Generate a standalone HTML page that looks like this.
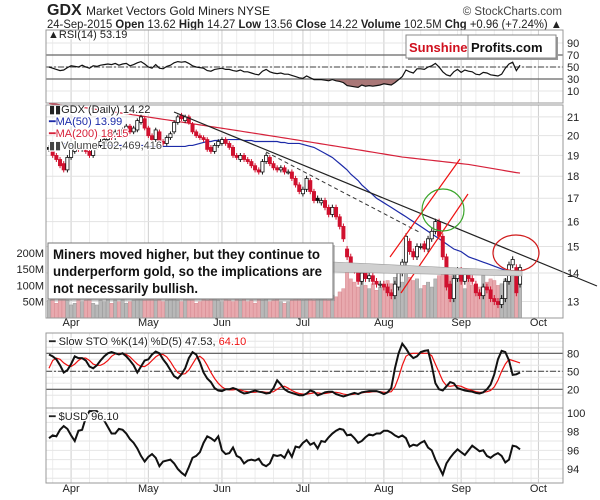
<!DOCTYPE html>
<html><head><meta charset="utf-8"><style>
html,body{margin:0;padding:0;background:#fff;}
svg{display:block;font-family:"Liberation Sans",sans-serif;}
.halo{paint-order:stroke;stroke:#fff;stroke-width:2.5px;stroke-linejoin:round;}
</style></head><body>
<svg id="chart" width="600" height="500" viewBox="0 0 600 500" xmlns="http://www.w3.org/2000/svg">
<rect x="0" y="0" width="600" height="500" fill="#fff"/>
<g>
<text x="47" y="15" font-size="16" font-weight="bold" fill="#222">GDX</text>
<text x="86" y="15" font-size="12" fill="#222">Market Vectors Gold Miners  NYSE</text>
<text x="562" y="15" font-size="11.5" fill="#444" text-anchor="end">© StockCharts.com</text>
<text x="47" y="28" font-size="11.5" fill="#222" textLength="515" lengthAdjust="spacingAndGlyphs">24-Sep-2015  <tspan font-weight="bold">Open</tspan> 13.62  <tspan font-weight="bold">High</tspan> 14.27  <tspan font-weight="bold">Low</tspan> 13.56  <tspan font-weight="bold">Close</tspan> 14.22  <tspan font-weight="bold">Volume</tspan> 102.5M  <tspan font-weight="bold">Chg</tspan> +0.96 (+7.24%) ▲</text>
</g>
<g id="grid"></g>
<g id="marks"></g>
<g id="overlay"></g>
<g id="frames"></g>
</svg>
<script>
const C=[19.3,19.0,18.8,18.5,18.3,18.9,19.3,19.4,19.3,19.5,19.2,19.0,19.4,19.5,19.7,19.8,20.0,19.9,20.2,20.0,20.3,20.5,20.2,20.4,20.8,21.0,20.4,20.0,19.8,20.3,19.7,19.6,19.9,20.1,20.7,21.0,20.9,21.0,20.7,20.2,20.0,19.9,19.8,19.3,19.2,19.5,19.7,19.8,19.6,19.4,19.0,18.9,19.0,18.8,18.7,18.5,18.3,18.2,18.7,19.0,18.6,18.4,18.3,18.4,18.2,18.2,17.9,17.6,17.3,17.4,17.9,17.3,16.9,16.9,16.9,16.6,16.3,16.6,16.2,15.8,15.3,14.6,14.2,14.1,13.7,14.0,13.8,13.9,13.7,13.6,13.6,13.5,13.3,13.2,13.6,14.0,14.4,15.4,14.8,14.6,15.0,15.0,14.9,15.3,15.6,16.0,15.4,14.6,13.5,13.1,13.8,14.1,13.7,14.0,13.8,13.7,13.3,13.2,13.5,13.4,13.1,13.0,12.9,13.1,13.7,14.3,14.5,13.3,14.2];
const O=[19.4,19.3,19.0,18.8,18.6,18.3,18.9,19.2,19.5,19.3,19.5,19.2,19.0,19.4,19.5,19.6,19.8,20.1,19.9,20.2,20.0,20.3,20.5,20.2,20.3,20.7,20.9,20.4,20.0,19.8,20.2,19.7,19.6,19.9,20.2,20.7,21.1,20.8,21.0,20.6,20.2,20.0,19.9,19.8,19.4,19.2,19.5,19.6,19.8,19.6,19.4,19.0,18.8,19.0,18.8,18.7,18.5,18.3,18.2,18.7,18.9,18.6,18.4,18.3,18.4,18.2,18.2,17.9,17.6,17.2,17.4,17.8,17.3,17.0,16.8,16.9,16.6,16.3,16.6,16.2,15.8,14.9,14.6,14.2,14.1,13.7,14.0,13.8,13.9,13.7,13.6,13.6,13.5,13.3,13.2,13.5,14.0,14.4,15.2,14.8,14.6,15.0,15.1,14.9,15.3,15.6,16.0,15.4,14.6,13.6,13.1,13.8,14.1,13.7,14.0,13.8,13.6,13.3,13.2,13.5,13.4,13.1,13.0,12.9,13.1,13.7,14.3,14.2,13.6];
const VOL=[55,60,45,70,65,55,40,45,60,50,55,60,45,40,55,50,60,45,55,50,60,45,50,55,75,60,55,65,80,55,60,50,55,65,60,55,50,65,60,70,45,50,60,55,80,60,55,50,60,55,50,60,55,65,50,55,45,60,55,70,50,55,60,50,45,50,55,60,65,55,70,60,55,65,75,60,55,70,65,80,90,150,120,110,95,130,100,90,105,85,95,100,115,105,125,100,110,140,125,115,120,90,100,110,95,120,130,140,150,130,135,120,110,90,125,100,105,95,130,110,120,115,100,105,120,130,140,125,102];
const RSI=[50,48,46,44,45,49,52,51,50,53,50,48,52,51,53,54,55,54,56,53,55,56,52,54,57,59,55,50,48,54,48,47,51,53,57,59,58,59,56,52,50,49,48,44,43,46,47,48,46,46,44,43,45,42,42,40,38,37,43,46,42,40,39,40,38,38,36,34,32,31,35,32,29,29,29,28,27,29,27,26,24,19,18,17,16,20,18,19,18,19,20,22,21,20,24,29,34,45,42,40,47,47,46,50,52,56,50,42,37,35,42,46,41,45,43,42,38,37,41,40,37,36,35,38,48,55,58,44,53];
const STOK=[78,75,70,60,48,52,62,75,72,72,68,58,55,60,68,75,80,82,80,78,80,75,68,60,48,58,68,70,78,83,80,70,62,52,42,38,45,55,72,82,78,65,48,38,32,22,18,17,20,20,22,20,16,13,14,16,18,16,15,13,14,22,35,28,20,16,14,12,10,10,13,18,16,10,12,15,16,16,12,10,8,10,12,14,12,15,16,17,17,17,15,12,15,22,55,80,96,88,78,72,75,82,84,85,60,30,20,18,25,32,30,22,20,18,17,16,14,13,15,20,28,45,70,84,82,68,44,45,48];
const STOD=[55,68,72,70,64,60,58,62,68,72,72,68,62,60,60,63,68,75,79,80,79,78,74,68,62,58,58,62,68,74,78,78,74,66,56,48,45,46,52,62,72,75,70,60,48,38,30,24,20,19,19,20,19,17,16,15,15,16,16,15,15,16,20,24,25,22,18,15,13,12,12,13,14,14,13,13,14,15,15,14,12,11,11,12,13,14,15,15,16,16,16,15,15,16,24,40,60,75,79,80,80,80,80,80,76,62,48,34,26,25,26,26,25,22,20,18,16,15,15,16,18,24,35,50,62,70,68,66,64];
const USD=[97.3,97.6,97.5,98.2,98.6,98.3,97.6,97.0,98.1,98.2,99.5,100.3,100.8,100.5,99.8,99.2,98.5,97.8,97.8,98.3,98.2,97.8,97.2,96.8,96.2,95.4,94.8,95.3,95.6,95.2,94.3,94.8,94.9,95.0,94.6,94.0,93.6,93.3,94.2,95.2,95.4,95.8,96.8,97.5,97.3,97.0,97.5,96.0,95.6,95.7,96.3,95.4,95.2,94.6,94.9,95.0,94.9,95.1,94.5,94.3,94.6,95.5,95.4,95.5,95.2,96.0,95.3,96.4,96.3,96.8,97.1,96.6,96.8,96.2,97.0,96.9,97.4,97.8,98.1,98.3,98.2,97.6,97.7,97.3,96.8,97.0,97.4,97.7,97.6,97.8,97.8,98.1,98.1,97.9,97.6,97.4,97.6,97.3,96.4,96.6,96.5,96.8,97.0,96.3,96.0,95.0,94.2,93.4,94.6,95.2,95.7,96.1,95.8,95.5,96.0,96.5,96.2,95.9,96.0,95.4,95.2,95.5,95.7,95.4,94.7,95.0,96.5,96.4,96.1];
const MA50=[19.7,19.7,19.6,19.6,19.6,19.5,19.5,19.5,19.5,19.5,19.5,19.5,19.5,19.5,19.5,19.5,19.5,19.5,19.5,19.5,19.5,19.5,19.5,19.5,19.5,19.5,19.5,19.45,19.45,19.45,19.45,19.45,19.45,19.45,19.45,19.45,19.45,19.45,19.5,19.5,19.55,19.6,19.65,19.7,19.7,19.75,19.75,19.8,19.8,19.8,19.8,19.8,19.8,19.75,19.75,19.75,19.7,19.7,19.7,19.7,19.7,19.7,19.7,19.65,19.65,19.6,19.6,19.6,19.6,19.55,19.5,19.45,19.4,19.3,19.2,19.1,19.0,18.9,18.75,18.6,18.45,18.3,18.1,17.95,17.8,17.6,17.45,17.3,17.15,17.0,16.9,16.8,16.7,16.6,16.5,16.4,16.3,16.2,16.1,16.0,15.9,15.8,15.7,15.6,15.5,15.4,15.3,15.2,15.1,15.0,14.9,14.85,14.8,14.7,14.6,14.55,14.5,14.45,14.4,14.35,14.3,14.25,14.2,14.15,14.1,14.05,14.03,14.0,13.99];
const MA200=[21.75,21.72,21.7,21.67,21.65,21.62,21.6,21.57,21.55,21.52,21.5,21.47,21.44,21.41,21.38,21.35,21.32,21.29,21.26,21.23,21.2,21.17,21.14,21.11,21.08,21.05,21.02,20.99,20.96,20.93,20.9,20.87,20.84,20.81,20.78,20.75,20.72,20.69,20.66,20.63,20.6,20.57,20.54,20.51,20.48,20.45,20.42,20.39,20.36,20.33,20.3,20.27,20.24,20.21,20.18,20.15,20.12,20.09,20.06,20.03,20.0,19.97,19.94,19.91,19.88,19.85,19.82,19.79,19.76,19.73,19.7,19.67,19.64,19.61,19.58,19.55,19.52,19.49,19.46,19.43,19.4,19.37,19.34,19.31,19.28,19.25,19.22,19.19,19.16,19.13,19.1,19.07,19.04,19.01,18.98,18.95,18.92,18.9,18.88,18.86,18.84,18.82,18.8,18.78,18.76,18.74,18.72,18.7,18.68,18.66,18.64,18.62,18.6,18.58,18.56,18.53,18.5,18.47,18.44,18.41,18.38,18.35,18.32,18.29,18.26,18.23,18.2,18.17,18.15];
const MONTHS=["Apr","May","Jun","Jul","Aug","Sep","Oct"];
const MONTH_IDX=[6,27,47,69,91,112,133];
const PRICE_TICKS=[13,14,15,16,17,18,19,20,21];
const VOL_TICKS=[50,100,150,200];
const RSI_TICKS=[10,30,50,70,90];
const STO_TICKS=[20,50,80];
const USD_TICKS=[94,96,98,100];

const NS="http://www.w3.org/2000/svg";
const L=46,R=563;
const xOf=i=>49+i*3.68;
const yP=p=>273-Math.log(p/14)*385;
const yV=v=>318-v*0.326;
const yR=v=>97-v*0.6;
const yS=v=>401.3-v*0.6;
const yU=v=>413+(100-v)*9.33;
const P={rsi:[30,103],main:[105,318],sto:[333,408],usd:[408,483]};
function mk(tag,attrs,parent){const e=document.createElementNS(NS,tag);for(const k in attrs)e.setAttribute(k,attrs[k]);parent.appendChild(e);return e;}
const grid=document.getElementById('grid'),marks=document.getElementById('marks'),ov=document.getElementById('overlay'),fr=document.getElementById('frames');

for(const key in P){const [t,b]=P[key];
 for(let i=1;i<134;i+=5){const x=xOf(i);if(x<L||x>R)continue;const ln=mk('line',{x1:x,x2:x,y1:t,y2:b,stroke:'#ececec','stroke-width':1},grid);

}
 MONTH_IDX.forEach(mi=>{const x=xOf(mi);const ln=mk('line',{x1:x,x2:x,y1:t,y2:b,stroke:'#cfcfcf','stroke-width':1},grid);

});
}
[326,492].forEach(y=>MONTHS.forEach((m,k)=>{const t=mk('text',{x:xOf(MONTH_IDX[k]),y:y,'font-size':11,'text-anchor':'middle',fill:'#222'},fr);t.textContent=m;

}));
function hline(y,parent,stroke,dash,w){const a={x1:L,x2:R,y1:y,y2:y,stroke:stroke,'stroke-width':w||1};if(dash)a['stroke-dasharray']=dash;return mk('line',a,parent);}
function label(x,y,txt,anchor){const t=mk('text',{x:x,y:y+4,'font-size':11,fill:'#222','text-anchor':anchor||'start'},fr);t.textContent=txt;return t;}
PRICE_TICKS.forEach(p=>{const ln=hline(yP(p),grid,'#e2e2e2');


const t=label(567,yP(p),String(p));

});
VOL_TICKS.forEach(v=>{const t=label(44,yV(v),v+'M','end');

});
for(let v=10;v<=90;v+=20){const ln=hline(yR(v),grid,'#e6e6e6');}
RSI_TICKS.forEach(v=>{const t=label(567,yR(v),String(v));

});
for(let v=10;v<=100;v+=10){const ln=hline(yS(v),grid,'#e6e6e6');}
STO_TICKS.forEach(v=>{const t=label(567,yS(v),String(v));

});
for(let v=93;v<=100;v+=1){const ln=hline(yU(v),grid,'#e6e6e6');}
USD_TICKS.forEach(v=>{const t=label(567,yU(v),String(v));

});

(function(){
 let d='';
 for(let i=0;i<RSI.length;i++){const v=Math.min(RSI[i],30);d+=(i?'L':'M')+xOf(i)+','+yR(v);}
 d+='L'+xOf(RSI.length-1)+','+yR(30)+'L'+xOf(0)+','+yR(30)+'Z';
 const a=mk('path',{d:d,fill:'#a97777',stroke:'none'},marks);
 
 
 [[70,null],[30,null],[50,'6,2,2,2']].forEach(([v,dash])=>{const ln=hline(yR(v),marks,'#666',dash,1.2);});
 const p=mk('polyline',{points:RSI.map((v,i)=>xOf(i)+','+yR(v)).join(' '),fill:'none',stroke:'#111','stroke-width':1.2},marks);
 
 
})();

VOL.forEach((v,i)=>{const up=i===0||C[i]>=C[i-1];const x=xOf(i);
 const r=mk('rect',{x:x-1.7,y:yV(v),width:3.4,height:318-yV(v),fill:up?'#b8b8b8':'#e8a9ae',stroke:up?'#999':'#d98c93','stroke-width':0.5},marks);
 
 });

function poly(arr,yf,color,w,name){const p=mk('polyline',{points:arr.map((v,i)=>xOf(i)+','+yf(v)).join(' '),fill:'none',stroke:color,'stroke-width':w},marks);return p;}
poly(MA200,yP,'#d6213a',1.2,'ma200-line');
poly(MA50,yP,'#1c2aa8',1.2,'ma50-line');

C.forEach((c,i)=>{const o=O[i];const x=xOf(i);const up=i===0||c>=C[i-1];const col=up?'#111':'#d0102e';
 const hi=Math.max(o,c)+0.12,lo=Math.min(o,c)-0.12;
 const w=mk('line',{x1:x,x2:x,y1:yP(hi),y2:yP(lo),stroke:col,'stroke-width':1},marks);
 
 
 const top=yP(Math.max(o,c)),bot=yP(Math.min(o,c));
 const b=mk('rect',{x:x-1.6,y:top,width:3.2,height:Math.max(1,bot-top),fill:c>=o?'#fff':col,stroke:col,'stroke-width':0.8},marks);
 
 });

[[80,null],[20,null],[50,'6,2,2,2']].forEach(([v,dash])=>{const ln=hline(yS(v),marks,'#555',dash,1.2);});
poly(STOD,yS,'#ee1111',1.2,'sto-d-line');
poly(STOK,yS,'#111',2,'sto-k-line');
poly(USD.map(v=>Math.min(v,100.2)),yU,'#111',2,'usd-line');

for(const key in P){const [t,b]=P[key];const r=mk('rect',{x:L,y:t,width:R-L,height:b-t,fill:'none',stroke:'#999','stroke-width':1},fr);

}
</script>
<script>
(function(){
const NS="http://www.w3.org/2000/svg";
const ov=document.getElementById('overlay');
const html=`
<line x1="174" y1="112" x2="597" y2="286" stroke="#222" stroke-width="1.2"/>
<line x1="266" y1="152" x2="421" y2="233" stroke="#333" stroke-width="1" stroke-dasharray="4,3"/>
<line x1="390" y1="257" x2="460" y2="159" stroke="#e11" stroke-width="1.2"/>
<line x1="401" y1="293" x2="468" y2="194" stroke="#e11" stroke-width="1.2"/>
<ellipse cx="443" cy="210" rx="21" ry="21" fill="none" stroke="#3aa52a" stroke-width="1.2"/>
<ellipse cx="516" cy="253" rx="23" ry="18" fill="none" stroke="#d01a1a" stroke-width="1.2"/>
<polygon points="333,262 522,271 522,276 333,272" fill="#d0d0d0" stroke="#999" stroke-width="0.6"/>
<rect x="50" y="245" width="285" height="56" fill="#888" opacity="0.5"/>
<rect x="48" y="243" width="285" height="56" fill="#fff" stroke="#777" stroke-width="1"/>
<text x="53" y="259" font-size="14" font-weight="bold" fill="#111" textLength="267" lengthAdjust="spacingAndGlyphs">Miners moved higher, but they continue to</text>
<text x="53" y="276" font-size="14" font-weight="bold" fill="#111" textLength="269" lengthAdjust="spacingAndGlyphs">underperform gold, so the implications are</text>
<text x="53" y="293" font-size="14" font-weight="bold" fill="#111" textLength="145" lengthAdjust="spacingAndGlyphs">not necessarily bullish.</text>
<rect x="408" y="37" width="150" height="23" fill="#999"/>
<rect x="406" y="35" width="150" height="23" fill="#fff" stroke="#888"/>
<line x1="468" y1="35" x2="468" y2="58" stroke="#888"/>
<text x="409" y="52" font-size="13" font-weight="bold" fill="#d0101e">Sunshine</text>
<text x="471" y="52" font-size="13" font-weight="bold" fill="#111">Profits.com</text>
<text class="halo" x="48" y="38" font-size="11" fill="#222">▲RSI(14) 53.19</text>
<text class="halo" x="49" y="113" font-size="11" fill="#222">▮▮GDX (Daily) 14.22</text>
<text class="halo" x="49" y="125" font-size="11" fill="#1c2aa8">━MA(50) 13.99</text>
<text class="halo" x="49" y="137" font-size="11" fill="#d6213a">━MA(200) 18.15</text>
<text class="halo" x="49" y="149" font-size="11" fill="#444">▮▮Volume 102,469,416</text>
<text class="halo" x="49" y="345" font-size="11" fill="#222">━ Slow STO %K(14) %D(5) 47.53, <tspan fill="#e11">64.10</tspan></text>
<text class="halo" x="49" y="420" font-size="11" fill="#222">━ $USD 96.10</text>`;
const tmp=document.createElementNS(NS,'g');
tmp.innerHTML=html;
while(tmp.firstChild)ov.appendChild(tmp.firstChild);
})();
</script>
</body></html>
